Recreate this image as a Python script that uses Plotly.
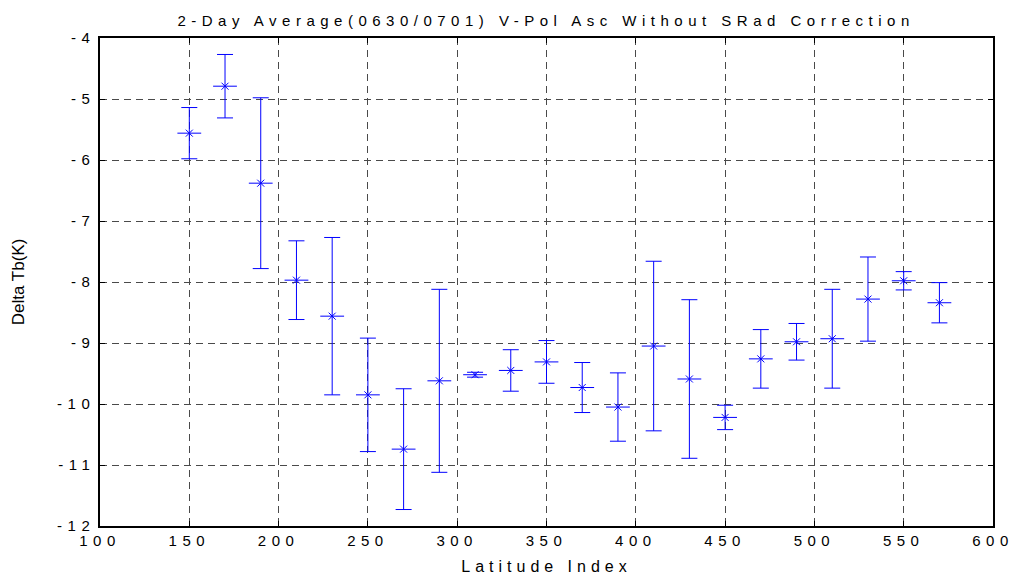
import plotly.graph_objects as go

# Latitude index bins and mean brightness-temperature difference (K)
lat_index = [150, 170, 190, 210, 230, 250, 270, 290, 310, 330, 350,
             370, 390, 410, 430, 450, 470, 490, 510, 530, 550, 570]
delta_tb = [-5.56, -4.79, -6.38, -7.97, -8.56, -9.85, -10.74, -9.62, -9.52, -9.45, -9.31,
            -9.73, -10.05, -9.05, -9.59, -10.22, -9.26, -8.98, -8.93, -8.28, -7.98, -8.34]
# one-sigma spread of each bin (K)
delta_err = [0.42, 0.52, 1.40, 0.645, 1.29, 0.93, 0.99, 1.50, 0.04, 0.34, 0.35,
             0.41, 0.56, 1.39, 1.30, 0.20, 0.48, 0.30, 0.81, 0.69, 0.15, 0.33]

x_ticks = [100, 150, 200, 250, 300, 350, 400, 450, 500, 550, 600]
y_ticks = [-4, -5, -6, -7, -8, -9, -10, -11, -12]

FONT = "Liberation Sans, Arial, sans-serif"
BLUE = "#0000ff"


def spaced(text, px=5.5):
    return '<span style="letter-spacing:%spx">%s</span>' % (px, text)


fig = go.Figure()

# error bars with horizontal stroke of the asterisk marker
fig.add_trace(go.Scatter(
    x=lat_index, y=delta_tb, mode="markers",
    marker=dict(symbol="line-ew-open", size=17, color=BLUE,
                line=dict(color=BLUE, width=1)),
    error_y=dict(type="data", array=delta_err, visible=True,
                 color=BLUE, thickness=1, width=8),
    showlegend=False, hoverinfo="x+y",
))
# diagonal strokes of the asterisk marker
fig.add_trace(go.Scatter(
    x=lat_index, y=delta_tb, mode="markers",
    marker=dict(symbol="x-thin-open", size=7, color=BLUE,
                line=dict(color=BLUE, width=1)),
    showlegend=False, hoverinfo="skip",
))

axis_common = dict(
    showline=True, linecolor="black", linewidth=1.5, mirror="ticks",
    showgrid=True, gridcolor="#4a4a4a", gridwidth=1, griddash="7px,5px",
    zeroline=False, ticks="inside", ticklen=5, tickcolor="black",
    tickfont=dict(family=FONT, size=15, color="black"),
    automargin=False, ticklabeloverflow="allow",
)

fig.update_xaxes(
    range=[100, 600], tickvals=x_ticks,
    ticktext=[spaced(str(v)) for v in x_ticks],
    title=dict(text=spaced("Latitude Index", 5), standoff=13,
               font=dict(family=FONT, size=16, color="black")),
    **axis_common,
)
fig.update_yaxes(
    range=[-12, -4], tickvals=y_ticks,
    ticktext=[spaced(str(v)) for v in y_ticks],
    title=dict(text="Delta Tb(K)", standoff=28,
               font=dict(family=FONT, size=17, color="black")),
    **axis_common,
)

fig.update_layout(
    width=1016, height=582,
    margin=dict(l=100, r=23, t=38, b=56, autoexpand=False),
    paper_bgcolor="white", plot_bgcolor="white",
    title=dict(text=spaced("2-Day Average(0630/0701) V-Pol Asc Without SRad Correction", 5.5),
               x=0.5375, xanchor="center", y=0.965, yanchor="middle",
               font=dict(family=FONT, size=15, color="black")),
)

fig.write_html("out.html")
